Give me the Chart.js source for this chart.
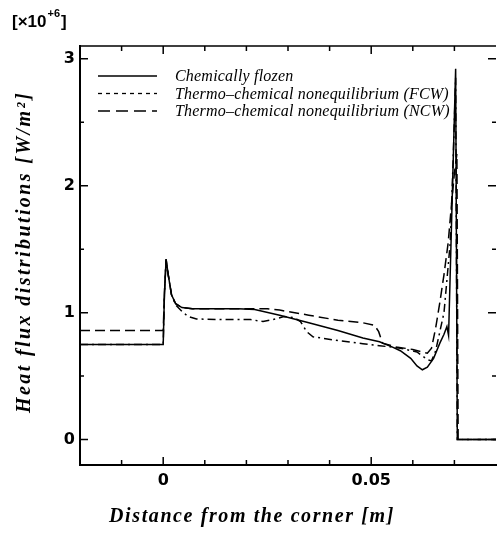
<!DOCTYPE html>
<html>
<head>
<meta charset="utf-8">
<script src="https://cdn.jsdelivr.net/npm/chart.js@4.4.1/dist/chart.umd.min.js"></script>
<style>
  html, body { margin: 0; padding: 0; background: #fff; }
  #wrap { width: 497px; height: 537px; }
</style>
</head>
<body>
<div id="wrap"><canvas id="heatChart"></canvas></div>
<script>
// series labels
const seriesNames = ['Chemically flozen', 'Thermo\u2013chemical nonequilibrium (FCW)', 'Thermo\u2013chemical nonequilibrium (NCW)'];

// chemically frozen (solid)
const frozenX = [-0.02, 0, 0.0003, 0.0007, 0.0012, 0.002, 0.003, 0.0045, 0.007, 0.012, 0.018, 0.022, 0.028, 0.035, 0.042, 0.048, 0.052, 0.055, 0.057, 0.0595, 0.061, 0.0623, 0.0635, 0.065, 0.0665, 0.0675, 0.0682, 0.0686, 0.0703, 0.0707, 0.08];
const frozenY = [0.75, 0.75, 1.15, 1.42, 1.30, 1.14, 1.07, 1.04, 1.03, 1.03, 1.03, 1.025, 0.98, 0.92, 0.86, 0.80, 0.77, 0.73, 0.70, 0.64, 0.58, 0.55, 0.57, 0.64, 0.76, 0.83, 0.89, 0.82, 2.92, 0, 0];

// FCW (dash-dot in the plot)
const fcwX = [-0.02, 0, 0.0003, 0.0007, 0.0012, 0.002, 0.003, 0.0045, 0.006, 0.008, 0.015, 0.021, 0.024, 0.027, 0.029, 0.0315, 0.033, 0.0345, 0.036, 0.042, 0.048, 0.052, 0.057, 0.061, 0.0635, 0.0645, 0.0655, 0.0665, 0.0675, 0.069, 0.0697, 0.0703, 0.0707, 0.08];
const fcwY = [0.75, 0.75, 1.15, 1.42, 1.30, 1.14, 1.06, 1.01, 0.97, 0.95, 0.945, 0.945, 0.93, 0.95, 0.97, 0.96, 0.93, 0.85, 0.81, 0.78, 0.755, 0.74, 0.72, 0.69, 0.63, 0.62, 0.70, 0.85, 1.0, 1.55, 2.2, 2.85, 0, 0];

// NCW (long dash)
const ncwX = [-0.02, 0, 0.0003, 0.0007, 0.0012, 0.002, 0.003, 0.0045, 0.007, 0.015, 0.025, 0.028, 0.035, 0.042, 0.048, 0.0508, 0.0518, 0.0527, 0.056, 0.060, 0.0635, 0.0645, 0.0655, 0.0665, 0.0675, 0.0685, 0.0693, 0.0700, 0.0706, 0.0709, 0.08];
const ncwY = [0.86, 0.86, 1.15, 1.42, 1.30, 1.14, 1.07, 1.04, 1.03, 1.03, 1.03, 1.02, 0.98, 0.94, 0.92, 0.90, 0.85, 0.76, 0.73, 0.71, 0.68, 0.72, 0.88, 1.08, 1.30, 1.55, 1.85, 2.1, 2.25, 0, 0];

// axis ticks
const xTickLabels = [0, 0.05];
const xMinorTicks = [-0.01, 0, 0.01, 0.02, 0.03, 0.04, 0.05, 0.06, 0.07];
const yTickLabels = [0, 1, 2, 3];
const yMinorTicks = [0, 0.5, 1, 1.5, 2, 2.5, 3];

function toPoints(xs, ys) {
    return xs.map((v, i) => ({ x: v, y: ys[i] }));
}

// inward tick marks and top frame line
const framePlugin = {
    id: 'frame',
    afterDatasetsDraw(chart) {
        const { ctx, chartArea: a, scales: { x, y } } = chart;
        ctx.save();
        ctx.strokeStyle = '#000';
        ctx.lineWidth = 1.5;
        ctx.beginPath();
        ctx.moveTo(a.left, a.top);
        ctx.lineTo(a.right, a.top);
        xMinorTicks.forEach(v => {
            const px = x.getPixelForValue(v);
            const len = xTickLabels.includes(v) ? 8 : 5;
            ctx.moveTo(px, a.bottom);
            ctx.lineTo(px, a.bottom - len);
            ctx.moveTo(px, a.top);
            ctx.lineTo(px, a.top + len);
        });
        yMinorTicks.forEach(v => {
            const py = y.getPixelForValue(v);
            const len = yTickLabels.includes(v) ? 8 : 4;
            ctx.moveTo(a.left, py);
            ctx.lineTo(a.left + len, py);
            ctx.moveTo(a.right, py);
            ctx.lineTo(a.right - len, py);
        });
        ctx.stroke();
        ctx.restore();
    }
};

// axis titles, exponent and the legend
const textPlugin = {
    id: 'texts',
    afterDraw(chart, args, opts) {
        const ctx = chart.ctx;
        ctx.save();
        ctx.fillStyle = '#000';

        // exponent
        ctx.textBaseline = 'alphabetic';
        ctx.textAlign = 'left';
        ctx.font = 'bold 17px "Liberation Sans"';
        ctx.fillText('[\u00d710', 12, 27);
        let w = ctx.measureText('[\u00d710').width;
        ctx.font = 'bold 11px "Liberation Sans"';
        ctx.fillText('+6', 13 + w, 17);
        let w2 = ctx.measureText('+6').width;
        ctx.font = 'bold 17px "Liberation Sans"';
        ctx.fillText(']', 14 + w + w2, 27);

        // x title
        ctx.letterSpacing = '1.6px';
        ctx.font = 'bold italic 20px "Liberation Serif"';
        ctx.textAlign = 'center';
        ctx.textBaseline = 'middle';
        ctx.fillText('Distance from the corner [m]', 252, 517);

        // y title
        ctx.save();
        ctx.translate(25, 252);
        ctx.rotate(-Math.PI / 2);
        ctx.letterSpacing = '2.4px';
        ctx.fillText('Heat flux distributions [W/m\u00b2]', 0, 0);
        ctx.restore();

        // legend
        ctx.letterSpacing = '0.2px';
        ctx.font = 'italic 16px "Liberation Serif"';
        ctx.textAlign = 'left';
        chart.data.datasets.forEach((ds, i) => {
            const yy = 76 + i * 17.5;
            ctx.save();
            ctx.strokeStyle = '#000';
            ctx.lineWidth = 1.3;
            ctx.setLineDash(opts.legendDash[i]);
            ctx.beginPath();
            ctx.moveTo(98, yy);
            ctx.lineTo(157, yy);
            ctx.stroke();
            ctx.restore();
            ctx.fillText(ds.label, 175, yy + 1);
        });
        ctx.restore();
    }
};

new Chart(document.getElementById('heatChart'), {
    type: 'scatter',
    data: {
        datasets: [{
            label: seriesNames[0],
            data: toPoints(frozenX, frozenY),
            borderColor: '#000',
            borderWidth: 1.5,
            borderDash: []
        }, {
            label: seriesNames[1],
            data: toPoints(fcwX, fcwY),
            borderColor: '#000',
            borderWidth: 1.5,
            borderDash: [8, 4, 2, 4]
        }, {
            label: seriesNames[2],
            data: toPoints(ncwX, ncwY),
            borderColor: '#000',
            borderWidth: 1.5,
            borderDash: [10, 5]
        }]
    },
    options: {
        responsive: true,
        maintainAspectRatio: false,
        animation: false,
        showLine: true,
        elements: {
            point: { radius: 0 },
            line: { tension: 0 }
        },
        layout: {
            padding: { top: 46, right: 1, left: 0, bottom: 0 }
        },
        plugins: {
            legend: { display: false },
            tooltip: { enabled: false },
            texts: { legendDash: [[], [4, 4], [12, 6]] }
        },
        scales: {
            x: {
                type: 'linear',
                min: -0.02,
                max: 0.08,
                afterFit(scale) { scale.height = 72; },
                afterBuildTicks(scale) { scale.ticks = xTickLabels.map(v => ({ value: v })); },
                grid: { display: false, drawTicks: false },
                border: { display: true, color: '#000', width: 2 },
                ticks: {
                    color: '#000',
                    padding: 6,
                    maxRotation: 0,
                    font: { family: '"DejaVu Sans"', weight: 'bold', size: 16 },
                    callback: v => String(v)
                }
            },
            y: {
                type: 'linear',
                min: -0.2,
                max: 3.1,
                afterFit(scale) { scale.width = 80; },
                afterBuildTicks(scale) { scale.ticks = yTickLabels.map(v => ({ value: v })); },
                grid: { display: false, drawTicks: false },
                border: { display: true, color: '#000', width: 2 },
                ticks: {
                    color: '#000',
                    padding: 5,
                    font: { family: '"DejaVu Sans"', weight: 'bold', size: 16 },
                    callback: v => String(v)
                }
            }
        }
    },
    plugins: [framePlugin, textPlugin]
});
</script>
</body>
</html>
